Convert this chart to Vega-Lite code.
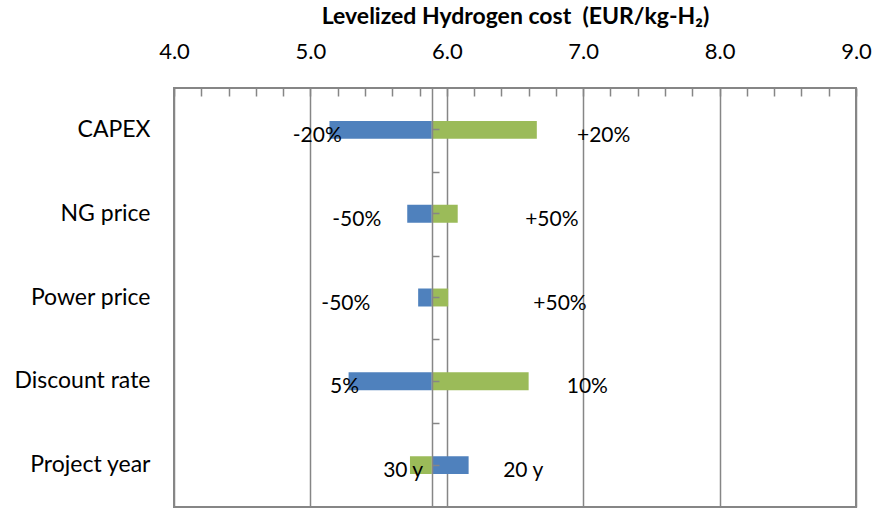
{
  "$schema": "https://vega.github.io/schema/vega-lite/v6.json",
  "autosize": {"type": "none"},
  "width": 682,
  "height": 419,
  "padding": {"left": 174, "top": 88, "right": 18, "bottom": 1},
  "background": "white",
  "config": {
    "font": "Lato",
    "view": {"stroke": "#868686", "strokeWidth": 2},
    "axis": {"labelFont": "Lato", "titleFont": "Lato", "labelColor": "#000000", "titleColor": "#000000"}
  },
  "data": {
    "values": [
      {"factor": "CAPEX", "case": "low", "base": 5.89, "cost": 5.14, "label": "-20%", "labelAt": 5.05},
      {"factor": "CAPEX", "case": "high", "base": 5.89, "cost": 6.66, "label": "+20%", "labelAt": 7.15},
      {"factor": "NG price", "case": "low", "base": 5.89, "cost": 5.71, "label": "-50%", "labelAt": 5.34},
      {"factor": "NG price", "case": "high", "base": 5.89, "cost": 6.08, "label": "+50%", "labelAt": 6.77},
      {"factor": "Power price", "case": "low", "base": 5.89, "cost": 5.79, "label": "-50%", "labelAt": 5.26},
      {"factor": "Power price", "case": "high", "base": 5.89, "cost": 6.01, "label": "+50%", "labelAt": 6.83},
      {"factor": "Discount rate", "case": "low", "base": 5.89, "cost": 5.28, "label": "5%", "labelAt": 5.25},
      {"factor": "Discount rate", "case": "high", "base": 5.89, "cost": 6.60, "label": "10%", "labelAt": 7.03},
      {"factor": "Project year", "case": "low", "base": 5.89, "cost": 6.16, "label": "20 y", "labelAt": 6.56},
      {"factor": "Project year", "case": "high", "base": 5.89, "cost": 5.73, "label": "30 y", "labelAt": 5.68}
    ]
  },
  "resolve": {"axis": {"y": "independent"}},
  "layer": [
    {
      "transform": [{"filter": "datum.case === 'low'"}],
      "mark": {"type": "bar", "cornerRadius": 0},
      "encoding": {
        "y": {
          "field": "factor", "type": "nominal",
          "sort": ["CAPEX", "NG price", "Power price", "Discount rate", "Project year"],
          "scale": {"paddingInner": 0.786, "paddingOuter": 0.393},
          "axis": {"orient": "left", "title": null, "domain": false, "ticks": false, "labelPadding": 24, "labelFontSize": 23, "labelLimit": 200}
        },
        "x": {
          "field": "cost", "type": "quantitative",
          "scale": {"domain": [4, 9], "nice": false, "zero": false},
          "axis": {
            "orient": "top",
            "title": "Levelized Hydrogen cost\u00a0 (EUR/kg-H₂)",
            "titleFontSize": 23, "titleFontWeight": "bold", "titlePadding": 12,
            "values": [4, 4.2, 4.4, 4.6, 4.8, 5, 5.2, 5.4, 5.6, 5.8, 6, 6.2, 6.4, 6.6, 6.8, 7, 7.2, 7.4, 7.6, 7.8, 8, 8.2, 8.4, 8.6, 8.8, 9],
            "tickCount": 30,
            "labelExpr": "abs(datum.value - round(datum.value)) < 0.01 ? format(datum.value, '.1f') : ''",
            "labelFontSize": 22, "labelPadding": 33, "labelFlush": false, "labelOverlap": false,
            "domain": false,
            "tickSize": -8, "tickColor": "#868686", "tickWidth": 1.5,
            "grid": true, "gridColor": "#868686", "gridWidth": 1.5,
            "gridOpacity": {"condition": {"test": "abs(datum.value - round(datum.value)) < 0.01", "value": 1}, "value": 0}
          }
        },
        "x2": {"field": "base"},
        "color": {"field": "case", "type": "nominal", "scale": {"domain": ["low", "high"], "range": ["#4F81BD", "#9BBB59"]}, "legend": null}
      }
    },
    {
      "transform": [{"filter": "datum.case === 'high'"}],
      "mark": {"type": "bar", "cornerRadius": 0},
      "encoding": {
        "y": {
          "field": "factor", "type": "nominal",
          "sort": ["CAPEX", "NG price", "Power price", "Discount rate", "Project year"],
          "axis": {"orient": "right", "offset": -424, "zindex": 1, "title": null, "labels": false, "domainColor": "#868686", "domainWidth": 1.5, "tickColor": "#868686", "tickWidth": 1.5, "tickSize": 7}
        },
        "x": {"field": "cost", "type": "quantitative"},
        "x2": {"field": "base"},
        "color": {"field": "case", "type": "nominal", "legend": null}
      }
    },
    {
      "mark": {"type": "text", "fontSize": 21, "color": "#000000", "align": "center", "baseline": "middle", "dy": 6},
      "encoding": {
        "y": {
          "field": "factor", "type": "nominal",
          "sort": ["CAPEX", "NG price", "Power price", "Discount rate", "Project year"],
          "axis": {"orient": "right", "offset": -424, "zindex": 1, "title": null, "labels": false, "domain": false, "tickOffset": 42, "tickColor": "#868686", "tickWidth": 1.5, "tickSize": 7}
        },
        "x": {"field": "labelAt", "type": "quantitative"},
        "text": {"field": "label"}
      }
    }
  ]
}
